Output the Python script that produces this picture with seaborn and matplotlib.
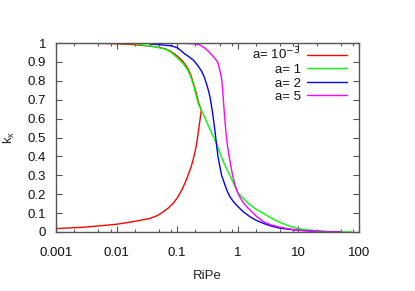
import numpy as np
import pandas as pd
import matplotlib
matplotlib.use("Agg")
import matplotlib.pyplot as plt
import seaborn as sns
from matplotlib.ticker import FixedLocator, NullFormatter

sns.set_style("ticks")
plt.rcParams['font.family'] = ['Liberation Sans', 'DejaVu Sans']

# ---- data ----
# a = 1e-3 : lower branch then upper branch (closed C-shaped path)
red_x = [0.001, 0.0028, 0.005, 0.01, 0.019, 0.0356, 0.048, 0.059, 0.072, 0.086, 0.1, 0.119,
         0.137, 0.155, 0.17, 0.184, 0.197, 0.21, 0.223, 0.237, 0.25,
         0.24, 0.225, 0.21, 0.19, 0.17, 0.15, 0.126, 0.105, 0.09, 0.076, 0.065, 0.05, 0.035,
         0.02, 0.01, 0.005, 0.001]
red_k = [0.018, 0.025, 0.032, 0.041, 0.055, 0.072, 0.088, 0.107, 0.128, 0.152, 0.18, 0.222,
         0.265, 0.31, 0.345, 0.385, 0.425, 0.47, 0.53, 0.59, 0.645,
         0.66, 0.685, 0.725, 0.775, 0.825, 0.865, 0.9, 0.925, 0.942, 0.958, 0.968, 0.977, 0.984,
         0.991, 0.996, 0.998, 1.0]

green_x = [0.01, 0.02, 0.035, 0.052, 0.065, 0.076, 0.09, 0.105, 0.126, 0.15, 0.17, 0.19, 0.21,
           0.225, 0.25, 0.3, 0.35, 0.42, 0.51, 0.6, 0.74, 0.87, 1.0, 1.09, 1.5, 2.0, 2.64, 3.5,
           5.0, 7.0, 9.3, 14, 20, 33, 75]
green_k = [1.0, 0.995, 0.985, 0.974, 0.966, 0.955, 0.935, 0.915, 0.89, 0.855, 0.815, 0.765, 0.71,
           0.675, 0.645, 0.59, 0.54, 0.487, 0.416, 0.36, 0.30, 0.25, 0.21, 0.196, 0.15, 0.12,
           0.099, 0.075, 0.05, 0.032, 0.02, 0.011, 0.007, 0.002, 0.0]

blue_x = [0.035, 0.052, 0.08, 0.1, 0.115, 0.13, 0.16, 0.184, 0.22, 0.253, 0.28, 0.307, 0.33,
          0.35, 0.38, 0.418, 0.47, 0.54, 0.66, 0.74, 0.85, 1.0, 1.23, 1.6, 2.0, 2.64, 3.5,
          5.0, 9.3, 20, 50]
blue_k = [0.995, 0.991, 0.985, 0.975, 0.96, 0.945, 0.925, 0.91, 0.88, 0.85, 0.82, 0.78, 0.745,
          0.71, 0.64, 0.54, 0.40, 0.30, 0.22, 0.187, 0.16, 0.135, 0.107, 0.08, 0.062, 0.046,
          0.032, 0.02, 0.01, 0.003, 0.0]

magenta_x = [0.105, 0.2, 0.237, 0.28, 0.33, 0.39, 0.44, 0.47, 0.5, 0.54, 0.56, 0.575, 0.6, 0.64,
             0.68, 0.72, 0.82, 0.9, 1.0, 1.2, 1.4, 2.0, 2.64, 3.5, 4.97, 9.3, 20, 50]
magenta_k = [1.0, 0.995, 0.99, 0.975, 0.956, 0.93, 0.91, 0.895, 0.86, 0.815, 0.76, 0.71, 0.63,
             0.52, 0.45, 0.40, 0.30, 0.25, 0.205, 0.16, 0.134, 0.085, 0.055, 0.038, 0.025, 0.01,
             0.003, 0.0]

labels = [r"a= 10$^{-3}$", "a= 1", "a= 2", "a= 5"]
colors = ["#ff0000", "#00ff00", "#0000ff", "#ff00ff"]

x_ticks = [0.001, 0.01, 0.1, 1, 10, 100]
x_ticklabels = ["0.001", "0.01", "0.1", "1", "10", "100"]
y_ticks = [0, 0.1, 0.2, 0.3, 0.4, 0.5, 0.6, 0.7, 0.8, 0.9, 1]
y_ticklabels = ["0", "0.1", "0.2", "0.3", "0.4", "0.5", "0.6", "0.7", "0.8", "0.9", "1"]

series = [(red_x, red_k), (green_x, green_k), (blue_x, blue_k), (magenta_x, magenta_k)]

# ---- figure ----
fig = plt.figure(figsize=(4.15, 2.91), dpi=100)
ax = fig.add_axes([56/415, 1-232/291, 303/415, 189/291])

for (xs, ks), lab, col in zip(series, labels, colors):
    df = pd.DataFrame({"RiPe": xs, "k": ks})
    sns.lineplot(data=df, x="RiPe", y="k", sort=False, estimator=None, ax=ax,
                 color=col, lw=1.0, label=lab)

ax.set_xscale("log")
ax.set_xlim(0.001, 100)
ax.set_ylim(0, 1)
ax.xaxis.set_major_locator(FixedLocator(x_ticks))
ax.set_xticklabels(x_ticklabels)
minor = [m * 10.0**e for e in range(-3, 2) for m in (2, 5, 8)]
ax.xaxis.set_minor_locator(FixedLocator(minor))
ax.xaxis.set_minor_formatter(NullFormatter())
ax.set_yticks(y_ticks)
ax.set_yticklabels(y_ticklabels)

spine_col = "#555555"
for s in ax.spines.values():
    s.set_color(spine_col)
    s.set_linewidth(1.0)
ax.tick_params(which="major", direction="in", top=True, right=True, length=4.5,
               width=0.8, color=spine_col, labelsize=9.5, pad=7, labelcolor="#111111")
ax.tick_params(which="minor", direction="in", top=True, right=True, length=2.5,
               width=0.8, color=spine_col)
ax.tick_params(axis="x", which="major", pad=11)

ax.set_xlabel("RiPe", fontsize=9.5, color="#222222", labelpad=8)
ax.set_ylabel(r"k$_\mathregular{x}$", fontsize=9.5, color="#222222", labelpad=8)

leg = ax.legend(loc="upper right", bbox_to_anchor=(0.96, 0.985), frameon=False,
                markerfirst=False, fontsize=9.5, handlelength=3.0, handletextpad=0.5,
                labelspacing=0.1, borderpad=0, borderaxespad=0)
for t in leg.get_texts():
    t.set_color("#111111")

fig.savefig("out.png", dpi=100)
